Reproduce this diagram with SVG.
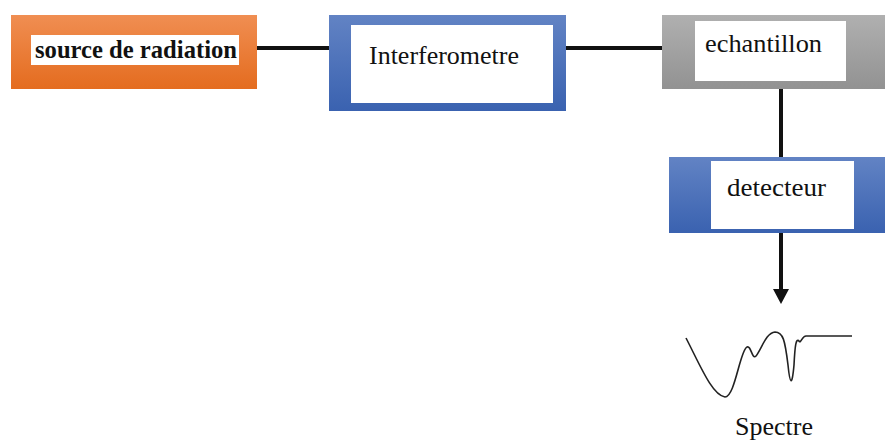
<svg xmlns="http://www.w3.org/2000/svg" width="885" height="441" viewBox="0 0 885 441">
<defs>
<linearGradient id="gOrange" x1="0" y1="0" x2="0" y2="1"><stop offset="0" stop-color="#F08E52"/><stop offset="1" stop-color="#E46C1F"/></linearGradient>
<linearGradient id="gBlue" x1="0" y1="0" x2="0" y2="1"><stop offset="0" stop-color="#6283C4"/><stop offset="1" stop-color="#3A62B0"/></linearGradient>
<linearGradient id="gGray" x1="0" y1="0" x2="0" y2="1"><stop offset="0" stop-color="#B0B0B0"/><stop offset="1" stop-color="#929292"/></linearGradient>
<style>
.lbl{font-family:"Liberation Serif","Times New Roman",serif;font-size:25px;fill:#111}
.inner{fill:#fff}
.conn{stroke:#111;stroke-width:4;fill:none}
</style>
</defs>
<g id="connectors">
<line class="conn" x1="257" y1="48" x2="330" y2="48"/>
<line class="conn" x1="566" y1="48" x2="662" y2="48"/>
<line class="conn" x1="781" y1="89" x2="781" y2="157"/>
<line class="conn" x1="781" y1="233" x2="781" y2="289"/>
<path d="M773,289 L789,289 L781,304 Z" fill="#111"/>
</g>
<g id="source">
<rect x="11" y="15" width="246" height="74" fill="url(#gOrange)"/>
<rect class="inner" x="31" y="35" width="208" height="30"/>
<text class="lbl" x="35" y="58" font-weight="bold" textLength="202" lengthAdjust="spacingAndGlyphs">source de radiation</text>
</g>
<g id="interferometre">
<rect x="329" y="15" width="237" height="96" fill="url(#gBlue)"/>
<rect class="inner" x="351" y="25" width="202" height="78"/>
<text class="lbl" x="369" y="64" textLength="150" lengthAdjust="spacingAndGlyphs">Interferometre</text>
</g>
<g id="echantillon">
<rect x="662" y="15" width="223" height="74" fill="url(#gGray)"/>
<rect class="inner" x="695" y="21" width="151" height="60"/>
<text class="lbl" x="705" y="52" textLength="117" lengthAdjust="spacingAndGlyphs">echantillon</text>
</g>
<g id="detecteur">
<rect x="669" y="157" width="216" height="76" fill="url(#gBlue)"/>
<rect class="inner" x="711" y="161" width="143" height="68"/>
<text class="lbl" x="727" y="196" textLength="99" lengthAdjust="spacingAndGlyphs">detecteur</text>
</g>
<g id="spectre">
<path d="M686,338 C700,365 712,395 725,397 C735,397 740,350 747,347 C751,345 752,360 756,356 C762,348 766,333 775,332 C783,332 785,340 788,365 C790,385 792,387 794,365 C795,345 796,338 799,341 C801,344 802,336 806,336 L852,336" fill="none" stroke="#222" stroke-width="1.6"/>
<text class="lbl" x="735" y="435" textLength="78" lengthAdjust="spacingAndGlyphs">Spectre</text>
</g>
</svg>
